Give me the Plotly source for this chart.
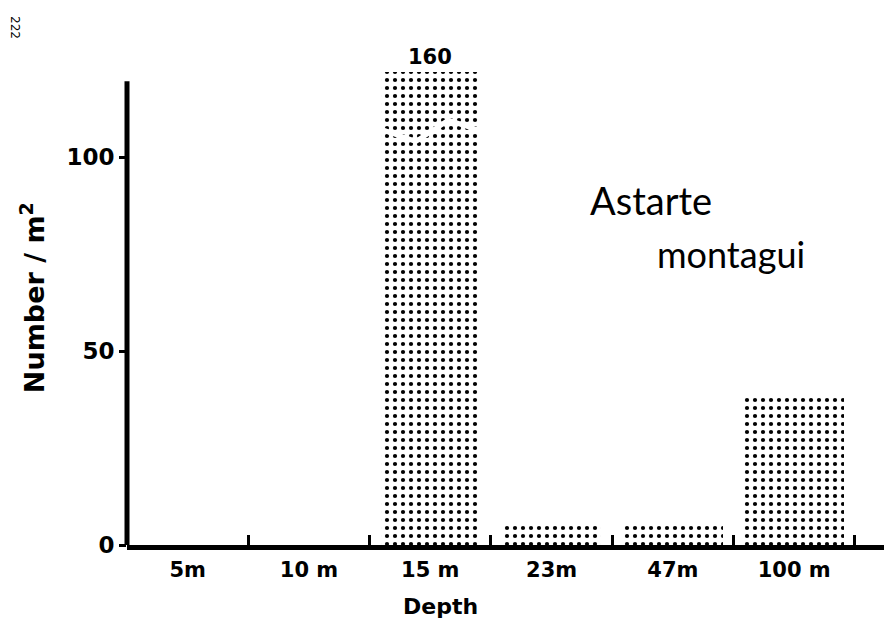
import plotly.graph_objects as go

# Data
depths = ["5m", "10m", "15m", "23m", "47m", "100m"]
tick_labels = ["5m", "10 m", "15 m", "23m", "47m", "100 m"]
values = [0, 0, 160, 6, 5, 38]          # Number / m2
axis_break = 122                         # bars above this are drawn broken
y_tickvals = [0, 50, 100]

shown = [min(v, axis_break) for v in values]

BOLD = dict(family="DejaVu Sans", size=21, color="black", weight="bold")
PLOT_W = 757  # plot-area width in px


def px_x(p):
    return (p - 127) / PLOT_W


fig = go.Figure()
fig.add_trace(go.Bar(
    x=tick_labels, y=shown, width=0.82,
    marker=dict(color="white", line=dict(width=0),
                pattern=dict(shape=".", fgcolor="black", bgcolor="white",
                             size=8, solidity=0.22, fillmode="replace")),
    showlegend=False,
))

# value label of the broken bar (true value above the break)
bi = values.index(max(values))
fig.add_annotation(x=tick_labels[bi], y=shown[bi], xref="x", yref="y",
                   text=str(values[bi]), showarrow=False, yanchor="bottom",
                   yshift=1, font=dict(BOLD, size=21))

# white zig-zag marking the broken bar
zig_x = [bi - 0.44, bi - 0.12, bi + 0.15, bi + 0.44]
zig_y = [107.5, 104.0, 109.5, 106.5]
for i in range(len(zig_x) - 1):
    fig.add_shape(type="line", xref="x", yref="y",
                  x0=zig_x[i], y0=zig_y[i], x1=zig_x[i + 1], y1=zig_y[i + 1],
                  line=dict(color="white", width=5))

# y axis line (stops below the top)
fig.add_shape(type="line", xref="paper", yref="y", x0=0, x1=0, y0=0, y1=119.5,
              line=dict(color="black", width=5))

fig.update_layout(
    width=876, height=622,
    margin=dict(l=119, r=0, t=52, b=85),
    paper_bgcolor="white", plot_bgcolor="white",
    bargap=0,
    xaxis=dict(type="category", range=[-0.5, 5.74], tickson="boundaries",
               ticks="inside", ticklen=10, tickwidth=3, tickcolor="black",
               showline=True, linewidth=5, linecolor="black",
               showgrid=False, zeroline=False, tickfont=BOLD,
               ticklabelstandoff=2),
    yaxis=dict(range=[0, 125], tickvals=y_tickvals, ticks="outside",
               ticklen=7, tickwidth=3, tickcolor="black", showline=False,
               showgrid=False, zeroline=False, tickfont=dict(BOLD, size=23)),
)
fig.add_annotation(text="Number / m<sup>2</sup>", textangle=-90, xref="paper", yref="paper",
                   x=0, y=0.509, xshift=-95, xanchor="center", yanchor="middle",
                   showarrow=False, font=dict(BOLD, size=27))
fig.add_annotation(text="Depth", xref="paper", yref="paper", x=px_x(440), y=0, yshift=-61,
                   xanchor="center", yanchor="middle",
                   showarrow=False, font=dict(BOLD, size=22))
fig.add_annotation(text="Astarte", xref="paper", yref="paper", x=px_x(588), y=0.711,
                   xanchor="left", yanchor="middle", showarrow=False,
                   font=dict(family="Lato", size=38, color="black"))
fig.add_annotation(text="montagui", xref="paper", yref="paper", x=px_x(655), y=0.60,
                   xanchor="left", yanchor="middle", showarrow=False,
                   font=dict(family="Lato", size=36, color="black"))
fig.add_annotation(text="222", textangle=90, xref="paper", yref="paper",
                   x=0, y=1, xshift=-112, yshift=33, xanchor="center", yanchor="middle",
                   showarrow=False,
                   font=dict(family="DejaVu Sans", size=12, color="black"))

fig.write_html("out.html")
